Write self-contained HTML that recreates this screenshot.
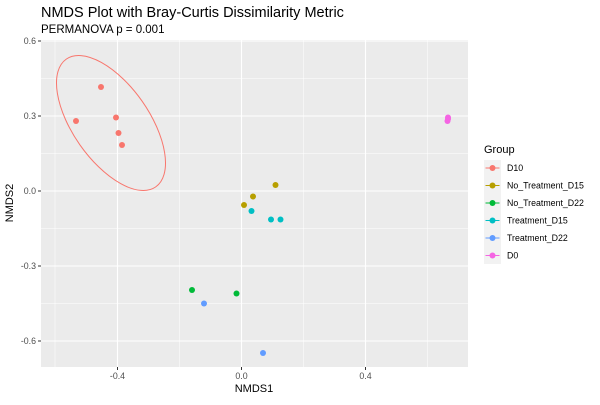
<!DOCTYPE html><html><head><style>body{margin:0;background:#fff}</style></head><body>
<svg width="600" height="400" xmlns="http://www.w3.org/2000/svg" font-family="Liberation Sans, DejaVu Sans, sans-serif">
<text x="41" y="17" font-size="14.5" fill="#000">NMDS Plot with Bray-Curtis Dissimilarity Metric</text>
<text x="41" y="33" font-size="11.5" fill="#000">PERMANOVA p = 0.001</text>
<rect x="41" y="40" width="427" height="327" fill="#EBEBEB"/>
<g stroke="#fff" stroke-width="0.5">
<line x1="41" x2="468" y1="78.5" y2="78.5"/><line x1="41" x2="468" y1="153.5" y2="153.5"/><line x1="41" x2="468" y1="228.5" y2="228.5"/><line x1="41" x2="468" y1="303.5" y2="303.5"/>
<line y1="40" y2="367" x1="55" x2="55"/><line y1="40" y2="367" x1="179.5" x2="179.5"/><line y1="40" y2="367" x1="303.5" x2="303.5"/><line y1="40" y2="367" x1="427.5" x2="427.5"/>
</g>
<g stroke="#fff" stroke-width="1.1">
<line x1="41" x2="468" y1="41" y2="41"/><line x1="41" x2="468" y1="116" y2="116"/><line x1="41" x2="468" y1="191" y2="191"/><line x1="41" x2="468" y1="266" y2="266"/><line x1="41" x2="468" y1="341" y2="341"/>
<line y1="40" y2="367" x1="117.5" x2="117.5"/><line y1="40" y2="367" x1="241.5" x2="241.5"/><line y1="40" y2="367" x1="365.5" x2="365.5"/>
</g>
<g stroke="#333" stroke-width="1">
<line x1="38" x2="41" y1="41" y2="41"/><line x1="38" x2="41" y1="116" y2="116"/><line x1="38" x2="41" y1="191" y2="191"/><line x1="38" x2="41" y1="266" y2="266"/><line x1="38" x2="41" y1="341" y2="341"/>
<line y1="367" y2="370" x1="117.5" x2="117.5"/><line y1="367" y2="370" x1="241.5" x2="241.5"/><line y1="367" y2="370" x1="365.5" x2="365.5"/>
</g>
<g font-size="8.8" fill="#4D4D4D" text-anchor="end">
<text x="36" y="44">0.6</text><text x="36" y="119">0.3</text><text x="36" y="194">0.0</text><text x="36" y="269">-0.3</text><text x="36" y="344">-0.6</text>
</g>
<g font-size="8.8" fill="#4D4D4D" text-anchor="middle">
<text x="117.5" y="379">-0.4</text><text x="241.5" y="379">0.0</text><text x="365.5" y="379">0.4</text>
</g>
<text x="254" y="392" font-size="11" text-anchor="middle">NMDS1</text>
<text transform="translate(13,203) rotate(-90)" font-size="11" text-anchor="middle">NMDS2</text>
<ellipse cx="111" cy="123" rx="78" ry="38" transform="rotate(55 111 123)" fill="none" stroke="#F8766D" stroke-width="1"/>
<g fill="#F8766D"><circle cx="101" cy="87" r="3"/><circle cx="76" cy="121" r="3"/><circle cx="116" cy="117.5" r="3"/><circle cx="118.5" cy="133" r="3"/><circle cx="122" cy="145" r="3"/></g>
<g fill="#B79F00"><circle cx="253" cy="196.5" r="3"/><circle cx="275.5" cy="185" r="3"/><circle cx="244" cy="205" r="3"/></g>
<g fill="#00BFC4"><circle cx="251.5" cy="211" r="3"/><circle cx="271" cy="219.5" r="3"/><circle cx="280.5" cy="219.5" r="3"/></g>
<g fill="#00BA38"><circle cx="192" cy="290" r="3"/><circle cx="236.5" cy="293.5" r="3"/></g>
<g fill="#619CFF"><circle cx="204" cy="303.5" r="3"/><circle cx="263" cy="353" r="3"/></g>
<g fill="#F564E3"><circle cx="448" cy="117.5" r="3"/><circle cx="447.5" cy="121" r="3"/><circle cx="448" cy="119" r="3"/></g>
<text x="484" y="153" font-size="11">Group</text>
<g font-size="8.8" fill="#000">
<rect x="484" y="160" width="17" height="104" fill="#F2F2F2"/>
<line x1="485.5" x2="499.5" y1="168" y2="168" stroke="#F8766D"/><circle cx="492.5" cy="168" r="3" fill="#F8766D"/><text x="507" y="171">D10</text>
<line x1="485.5" x2="499.5" y1="185.5" y2="185.5" stroke="#B79F00"/><circle cx="492.5" cy="185.5" r="3" fill="#B79F00"/><text x="507" y="188.5">No_Treatment_D15</text>
<line x1="485.5" x2="499.5" y1="203" y2="203" stroke="#00BA38"/><circle cx="492.5" cy="203" r="3" fill="#00BA38"/><text x="507" y="206">No_Treatment_D22</text>
<line x1="485.5" x2="499.5" y1="220.5" y2="220.5" stroke="#00BFC4"/><circle cx="492.5" cy="220.5" r="3" fill="#00BFC4"/><text x="507" y="223.5">Treatment_D15</text>
<line x1="485.5" x2="499.5" y1="238" y2="238" stroke="#619CFF"/><circle cx="492.5" cy="238" r="3" fill="#619CFF"/><text x="507" y="241">Treatment_D22</text>
<line x1="485.5" x2="499.5" y1="255.5" y2="255.5" stroke="#F564E3"/><circle cx="492.5" cy="255.5" r="3" fill="#F564E3"/><text x="507" y="258.5">D0</text>
</g>
</svg></body></html>
